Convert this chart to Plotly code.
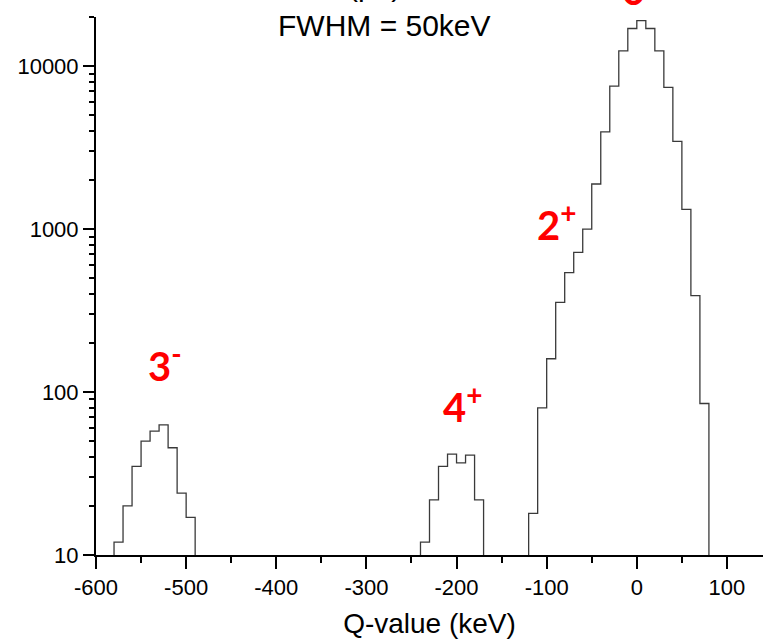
import math
import plotly.graph_objects as go

# ---- data ----
bin_width = 10  # keV
peak_3m_start = -580
peak_3m_counts = [12, 20, 35, 50, 57.6, 62.8, 45.5, 24, 17]
peak_4p_start = -240
peak_4p_counts = [12, 21.8, 35, 41.6, 36.8, 41, 21.8]
peak_gs_start = -120
peak_gs_counts = [18, 80, 160, 355, 540, 720, 1000, 1890, 3950, 7530,
                  12400, 17000, 19000, 17000, 12400, 7400, 3450, 1320, 390, 85]
baseline = 10

x_tickvals = [-600, -500, -400, -300, -200, -100, 0, 100]
x_ticktext = ["-600", "-500", "-400", "-300", "-200", "-100", "0", "100"]
y_tickvals = [10, 100, 1000, 10000]
y_ticktext = ["10", "100", "1000", "10000"]

labels = ["3<sup>-</sup>", "4<sup>+</sup>", "2<sup>+</sup>"]
label_x = [-524, -193, -89]
label_y = [150, 84, 1100]

# ---- build step outlines ----
xs, ys = [], []
for start, counts in [(peak_3m_start, peak_3m_counts),
                      (peak_4p_start, peak_4p_counts),
                      (peak_gs_start, peak_gs_counts)]:
    edges = [start + i * bin_width for i in range(len(counts) + 1)]
    xs += [edges[0]] + edges[:-1] + [edges[-1], edges[-1], None]
    ys += [baseline] + counts + [counts[-1], baseline, None]

fig = go.Figure()
fig.add_trace(go.Scatter(x=xs, y=ys, mode="lines", line_shape="hv",
                         line=dict(color="#3a3a3a", width=1.3),
                         connectgaps=False, showlegend=False, hoverinfo="skip"))

tick_font = dict(family="Liberation Sans, Arial, sans-serif", size=22, color="black")

fig.update_xaxes(range=[-600, 140], tickvals=x_tickvals, ticktext=x_ticktext,
                 ticks="outside", ticklen=12, tickwidth=2, tickcolor="black",
                 showline=True, linewidth=2, linecolor="black",
                 showgrid=False, zeroline=False, tickfont=tick_font,
                 minor=dict(tickvals=[-550, -450, -350, -250, -150, -50, 50],
                            ticks="outside", ticklen=6, tickwidth=2, tickcolor="black",
                            showgrid=False),
                 title=dict(text="Q-value (keV)",
                            font=dict(family="Liberation Sans, Arial, sans-serif",
                                      size=28, color="black"),
                            standoff=14))

minor_y = [m * d for d in [10, 100, 1000] for m in range(2, 10)] + [20000]
fig.update_yaxes(type="log", range=[1, 4.301], tickvals=y_tickvals,
                 ticktext=y_ticktext,
                 ticks="outside", ticklen=11, tickwidth=2, tickcolor="black",
                 showline=True, linewidth=2, linecolor="black",
                 showgrid=False, zeroline=False, tickfont=tick_font,
                 minor=dict(tickvals=minor_y, ticks="outside", ticklen=5,
                            tickwidth=2, tickcolor="black", showgrid=False))

red_font = dict(family="Lato, sans-serif", size=40, color="#ff0000", weight="bold")
annotations = []
for t, lx, ly in zip(labels, label_x, label_y):
    annotations.append(dict(x=lx, y=math.log10(ly), xref="x", yref="y", text=t,
                            showarrow=False, xanchor="center", yanchor="middle",
                            font=red_font))
# ground-state label sits above the plot top (mostly cut off in the reference)
annotations.append(dict(x=5, y=1.056, xref="x", yref="paper", text="0<sup>+</sup>",
                        showarrow=False, xanchor="center", yanchor="middle",
                        font=red_font))
annotations.append(dict(x=0.432, y=0.985, xref="paper", yref="paper",
                        text="FWHM = 50keV", showarrow=False,
                        xanchor="center", yanchor="middle",
                        font=dict(family="Liberation Sans, Arial, sans-serif",
                                  size=30, color="black")))
annotations.append(dict(x=0.418, y=1.058, xref="paper", yref="paper",
                        text="(p,t)", showarrow=False,
                        xanchor="center", yanchor="middle",
                        font=dict(family="Liberation Sans, Arial, sans-serif",
                                  size=30, color="black")))

fig.update_layout(width=763, height=640,
                  margin=dict(l=95.5, r=0, t=17, b=85, pad=0),
                  paper_bgcolor="white", plot_bgcolor="white",
                  annotations=annotations)

fig.write_html("out.html")
